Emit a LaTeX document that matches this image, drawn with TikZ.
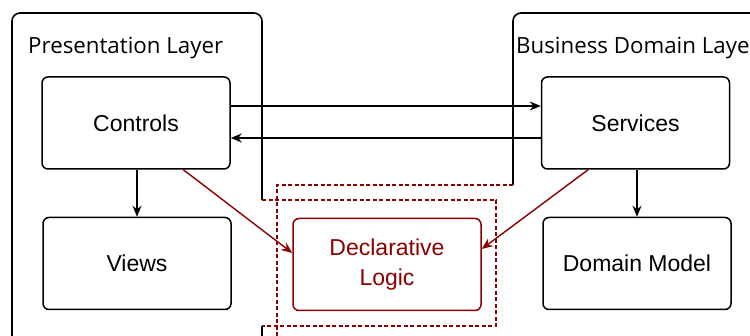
\documentclass[tikz,border=0pt]{standalone}
\usepackage{fontspec}
\setmainfont{Liberation Sans}
\newfontfamily\layerfont{Open Sans}
\usetikzlibrary{arrows.meta,calc}
\definecolor{logicred}{RGB}{139,0,0}

\begin{document}
\begin{tikzpicture}[x=1pt,y=-1pt,
  box/.style={draw=black, line width=1.5pt, rounded corners=6pt,
    minimum width=188pt, minimum height=92pt, inner sep=0pt,
    font=\fontsize{23}{30}\selectfont, align=center},
  logicbox/.style={box, draw=logicred, text=logicred},
  layer/.style={draw=black, line width=1.6pt, rounded corners=8pt},
  overlap/.style={draw=logicred, line width=1.4pt, dash pattern=on 4pt off 2.5pt},
  layerlabel/.style={anchor=base west, inner sep=0pt,
    font=\layerfont\fontsize{22.3}{26}\selectfont},
  flow/.style={draw=black, line width=1.4pt, -{Stealth[length=11pt,width=9pt]}},
  rule/.style={draw=logicred, line width=1.4pt, -{Stealth[length=11pt,width=9pt]}}
]
\useasboundingbox (0,0) rectangle (750,336);
\fill[white] (0,0) rectangle (750,336);
\clip (0,0) rectangle (750,336);

% presentation layer outline, with its notch reaching into the shared area
\draw[layer] (12,345) -- (12,13) -- (262,13) -- (262,200);
\draw[overlap] (262,200) -- (496,200) -- (496,326) -- (262,326);
\draw[layer] (262,326) -- (262,345);

% business domain layer outline, reaching left into the shared area
\draw[layer] (513,185) -- (513,13) -- (770,13) -- (770,345);
\draw[overlap] (513,185) -- (277,185) -- (277,345);

\node[layerlabel] (plabel) at (28,54) {Presentation Layer};
\node[layerlabel] (blabel) at (516,54) {Business Domain Layer};

% components
\node[box] (ctrl) at (136,123) {Controls};
\node[box] (svc) at (635.5,123) {Services};
\node[box] (views) at (137,263.5) {Views};
\node[box] (dom) at (637,263.5) {Domain Model};
\node[logicbox] (logic) at (387,264.5) {Declarative\\Logic};

% calls between the layers
\draw[flow] (ctrl.east |- 0,106) -- (svc.west |- 0,106);
\draw[flow] (svc.west |- 0,138) -- (ctrl.east |- 0,138);
\draw[flow] (ctrl.south -| views.north) -- (views.north);
\draw[flow] (svc.south -| dom.north) -- (dom.north);

% both sides use the declarative logic
\draw[rule] ($(ctrl.south west)!0.75!(ctrl.south east)$) -- (logic.west |- 0,253);
\draw[rule] ($(svc.south west)!0.25!(svc.south east)$) -- (logic.east |- 0,249);
\end{tikzpicture}
\end{document}
